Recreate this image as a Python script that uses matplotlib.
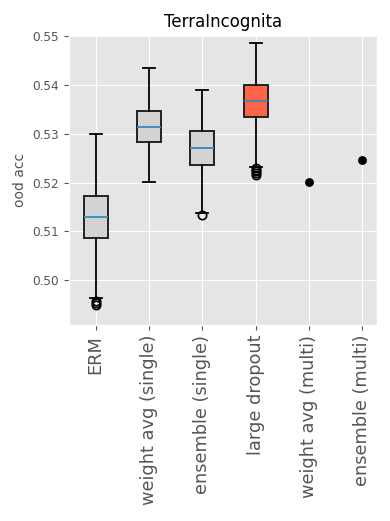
import matplotlib
matplotlib.use("Agg")
import matplotlib.pyplot as plt

plt.style.use("ggplot")

# box stats
box_names = ["ERM", "weight avg (single)", "ensemble (single)", "large dropout"]
whislo = [0.4964, 0.5201, 0.5138, 0.5233]
q1 = [0.5086, 0.5284, 0.5237, 0.5334]
med = [0.5129, 0.5314, 0.5272, 0.5368]
q3 = [0.5173, 0.5347, 0.5305, 0.5401]
whishi = [0.5300, 0.5435, 0.5390, 0.5486]
fliers = [
    [0.4958, 0.4953, 0.4950],
    [],
    [0.5133],
    [0.5231, 0.5227, 0.5223, 0.5219, 0.5216],
]
box_colors = ["lightgray", "lightgray", "lightgray", "tomato"]

# single runs
point_names = ["weight avg (multi)", "ensemble (multi)"]
point_vals = [0.5202, 0.5247]

fig = plt.figure(figsize=(3.9, 5.21), dpi=100)
ax = fig.add_axes([0.177, 0.376, 0.790, 0.557])

stats = []
for i in range(len(box_names)):
    stats.append({
        "label": box_names[i],
        "whislo": whislo[i], "q1": q1[i], "med": med[i],
        "q3": q3[i], "whishi": whishi[i], "fliers": fliers[i],
    })

bp = ax.bxp(stats, positions=range(1, len(box_names) + 1), widths=0.45,
            patch_artist=True)
for patch, c in zip(bp["boxes"], box_colors):
    patch.set_facecolor(c)
    patch.set_edgecolor("#222222")
    patch.set_linewidth(1.4)
for w in bp["whiskers"] + bp["caps"]:
    w.set_color("black")
    w.set_linewidth(1.3)
for m in bp["medians"]:
    m.set_color("#348ABD")
    m.set_linewidth(1.3)
for f in bp["fliers"]:
    f.set_markeredgewidth(1.2)

pos2 = range(len(box_names) + 1, len(box_names) + len(point_names) + 1)
ax.scatter(list(pos2), point_vals, color="black", s=34, zorder=3)

names = box_names + point_names
ax.set_xticks(range(1, len(names) + 1))
ax.set_xticklabels(names, rotation=90, fontsize=12.8)
ax.set_xlim(0.5, 6.28)
ax.set_ylim(0.4908, 0.5503)
ax.set_yticks([0.50, 0.51, 0.52, 0.53, 0.54, 0.55])
ax.tick_params(axis="y", labelsize=8.7)
ax.set_ylabel("ood acc", fontsize=10)
ax.set_title("TerraIncognita", fontsize=12)

fig.savefig("out.png", dpi=100)
